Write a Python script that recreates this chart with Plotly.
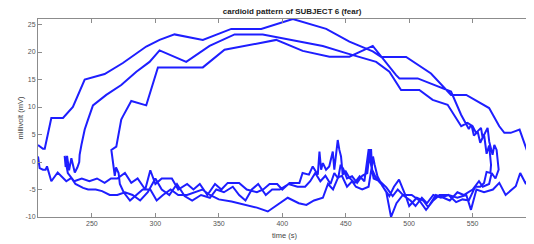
import plotly.graph_objects as go

# ---- data ----
arcA_t = [207.5, 211.4, 212.8, 216.5, 218, 227.2, 235, 244.3, 260, 274.4, 292.8, 303.3, 315.1, 337.4,
          359.8, 383.4, 408.3, 434.6, 452.9, 471.3, 478, 497.6, 517.2, 533, 545, 563, 571, 575, 580,
          587, 593.3, 594.6, 596, 594.8, 596]
arcA_v = [3.1, 2.4, 2.4, 6, 8, 8, 10, 15, 16, 18, 21, 22.2, 23.2, 22.2,
          24.2, 24.2, 26, 24.2, 21.9, 20.1, 19.1, 19.1, 16.1, 12.2, 12.2, 9.8, 6.5, 5.3, 5.3,
          5.9, 1.8, 2.2, 0.4, 0, -1.7]

ret1_t = [592, 587.5, 584, 576, 571, 566, 559, 553, 548.7, 545, 538, 531, 524, 519, 513.3, 508, 502,
          495, 490, 485.7, 482, 478, 474, 470.8, 470, 468, 464.7, 461, 457, 453, 450, 447.6, 446.3,
          445, 443.7, 442.4, 441, 439.8, 437, 434.5, 432, 430.6, 429.3, 428, 424, 421, 416, 413.5,
          405.7, 400, 396, 390, 385, 380, 372, 366, 357, 352, 347, 341, 335, 330, 325, 318, 313, 305,
          300, 296, 292, 286, 281, 276, 270, 265, 260, 254, 248, 242, 236, 231, 228.5, 229.3, 230.4,
          232, 233.8, 236.5, 238.5, 240]
ret1_v = [-4, -2, -4.4, -6, -3.8, -5, -5.5, -5, -8.7, -6, -6.5, -6, -6, -7, -8.7, -7, -6,
          -6, -7.5, -10, -5.5, -4, -3, -1.4, 2.2, 2.2, -3.5, -2.6, -3.8, -2.9, -1.7, -2.3, 1,
          2.2, 4, 0.7, -1.4, 1.9, -0.8, -1.4, -0.2, -1.4, 1.9, -2.3, -0.8, -2.3, -2, -3.8,
          -3.8, -5, -4, -4, -5, -5.5, -5, -3.8, -3.8, -5, -4, -6, -4, -5, -4, -5, -3, -3,
          -4, -1.5, -5, -3, -3.8, -2, -3, -3, -3.8, -3, -3.5, -3, -3.5, -2, 1.1, -0.9, 1.1,
          -1.5, 0.7, -1.9, -1, 0]

arcB_t = [240.3, 241.7, 244.3, 246.9, 250.8, 261.3, 273.1, 285, 295.4, 303.3, 324.3, 342.7, 362.4,
          384.6, 408.3, 431.9, 450.3, 474, 484.4, 493.6, 508, 518.5, 530.3, 538.2, 541, 546, 550,
          552.7, 556.6, 557.9, 561.8, 563.1, 565.7, 567.1, 568.9, 570.5]
arcB_v = [1.3, 3.1, 5.9, 7.7, 10.3, 12.2, 14, 16.4, 18.2, 20.3, 18.2, 21.1, 23.2,
          23.2, 22.2, 21.1, 19.8, 18.2, 16.4, 13.1, 13.1, 11.3, 10.4, 7.4, 6.5, 7.1, 6.5,
          5.3, 6.2, 4.4, 6.2, 3.7, 1.3, 3.1, 2.2, -1.4]

ret2_t = [568, 565, 563, 558, 555, 550, 543, 538, 532, 527, 521, 515, 511, 506, 500, 497, 492, 488,
          484.4, 479, 475, 472.7, 471.5, 470.8, 468, 463, 458, 455, 451, 447, 444, 440, 436, 432,
          425, 419, 413, 404.3, 396.5, 388.6, 380, 370, 360, 350, 343, 337, 331, 325, 318, 312, 306,
          301, 296, 290, 285, 280, 275, 272, 271, 269, 268, 266.5]
ret2_v = [-3, -2, -4, -4.5, -3.5, -5, -6, -5.5, -7, -6.5, -6, -8.2, -7, -6.5, -8, -6, -3.2, -4.5,
          -6.2, -4.4, -2.6, -0.4, 1, -0.5, -4.5, -5, -4.5, -3.5, -4.5, -2.5, -2.8, -5, -4, -6.5,
          -7, -7.8, -7.5, -6.5, -7.7, -9, -8.3, -7.7, -7.2, -6.8, -6, -5, -5.5, -6, -6, -5, -6,
          -7, -5, -5, -6, -7, -5.5, -4, -2, -1, -2.5, -0.2]

arcC_t = [265.3, 269.2, 273.1, 274.4, 281, 292.8, 302, 311.2, 337.4, 354.5, 395.2, 416.1, 437.2,
          452.9, 471.3, 489.7, 492.3, 506.7, 522.4, 533, 540.9, 543.5, 547, 549, 551, 554, 556,
          559, 561, 563, 564.5]
arcC_v = [2.2, 2.8, 7.7, 8.3, 11.1, 10.3, 17.2, 17.2, 17.2, 20.4, 22.2, 20.2, 19.15,
          19.15, 21.1, 15.8, 15.2, 15.2, 13.7, 12.8, 8.6, 7.5, 6, 6.8, 4.8, 5.5, 3.5,
          5, 1.5, 3, -0.5]

ret3_t = [564, 561, 559, 556, 552, 547, 542, 537, 531, 525, 519, 514, 510, 505, 501, 496, 491, 487,
          482, 477, 472, 469.5, 469, 467, 463, 459, 455, 451, 448, 446, 444, 441, 438, 434, 430,
          426, 422, 418, 412, 405, 398, 392, 387, 381, 376, 371, 366, 361, 354, 348, 343, 336, 329,
          323, 317, 311, 305, 300, 294, 288, 282, 276, 270, 264, 258, 253, 247, 243, 237, 233.8,
          229.8, 223, 218, 214.6, 213.5, 211.4, 208.8, 207.5]
ret3_v = [-2, -1.8, -3.8, -4.5, -4.5, -7, -6.8, -7.3, -6, -6.5, -6, -7.5, -6.5, -8, -7, -6.2, -5,
          -6.2, -4.6, -3.5, -3, 0, 2, -2, -2.5, -3.8, -2.6, -3, -1.2, -0.5, -3, -2, -4, -2.5, -3.5,
          -2, -3.5, -4.5, -4.5, -4, -5, -5, -6, -4, -5, -7, -6, -4.5, -5.5, -5, -6.5, -6, -7,
          -6.2, -4, -6, -5, -3, -5.5, -7, -6, -5.5, -6, -6, -5.3, -5, -5, -4.7, -4, -2.9,
          -3.5, -1.9, -3.5, -0.8, -1.4, -1.4, -1.1, 1.0]

x_ticks = [250, 300, 350, 400, 450, 500, 550]
y_ticks = [-10, -5, 0, 5, 10, 15, 20, 25]
y_tick_labels = ["-10", "-5", "0", "5", "10", "15", "20", "25"]

# one continuous trace: three loops
t_all = arcA_t + ret1_t + arcB_t + ret2_t + arcC_t + ret3_t
v_all = arcA_v + ret1_v + arcB_v + ret2_v + arcC_v + ret3_v

fig = go.Figure()
fig.add_trace(go.Scatter(x=t_all, y=v_all, mode="lines",
                         line=dict(color="rgb(30,30,255)", width=2),
                         showlegend=False, hoverinfo="skip", cliponaxis=True))

axis_common = dict(showline=True, linecolor="#8c8c8c", linewidth=1, mirror="ticks",
                   ticks="inside", ticklen=4, tickcolor="#8c8c8c", showgrid=False,
                   zeroline=False, automargin=False,
                   tickfont=dict(family="Liberation Sans", size=7, color="#555"))

# the page body adds an 8 px offset, so margins are shifted up/left by 8 px
fig.update_layout(
    width=534, height=244,
    margin=dict(l=30, r=11, t=11, b=35, autoexpand=False),
    paper_bgcolor="white", plot_bgcolor="white",
    title=dict(text="<b>cardioid pattern of SUBJECT 6 (fear)</b>", x=0.532, xanchor="center",
               y=0.985, yanchor="middle", automargin=False,
               font=dict(family="Liberation Sans", size=8, color="#222")),
    xaxis=dict(range=[207.5, 596], tickvals=x_ticks,
               title=dict(text="time (s)", standoff=6,
                          font=dict(family="Liberation Sans", size=7.5, color="#444")),
               **axis_common),
    yaxis=dict(range=[-10, 26], tickvals=y_ticks, ticktext=y_tick_labels,
               title=dict(text="millivolt (mV)", standoff=0,
                          font=dict(family="Liberation Sans", size=7.5, color="#444")),
               **axis_common),
)

fig.write_html("out.html")
